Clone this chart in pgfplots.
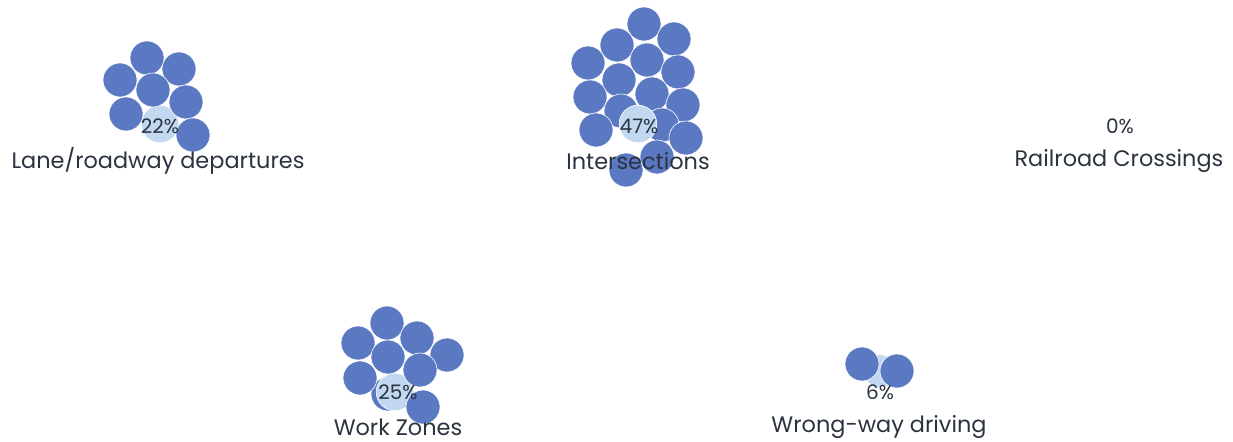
\documentclass[border=0pt]{standalone}
\usepackage{pgfplots}
\pgfplotsset{compat=1.18}
\usepackage{fontspec}
\setmainfont{Poppins}
\definecolor{bubble}{HTML}{5B78C3}
\definecolor{centre}{HTML}{C2D8F0}
\definecolor{txt}{HTML}{2B3340}
% one pixel of the reference = 0.5pt
\pgfplotsset{
  dark/.style={only marks, mark=*, mark size=8.5pt,
    mark options={fill=bubble, draw=white, line width=0.3pt}},
  light/.style={only marks, mark=*, mark size=9.4pt,
    mark options={fill=centre, draw=white, line width=0.3pt}},
}
\begin{document}
\begin{tikzpicture}
\begin{axis}[
  set layers=standard,
  scale only axis, width=616.5pt, height=220.5pt,
  xmin=0, xmax=1233, ymin=0, ymax=441, y dir=reverse,
  hide axis, clip=false,
]
\path (axis cs:0,0) (axis cs:1233,441);
% Lane/roadway departures
\addplot[light] coordinates {(160,124)};
\addplot[dark] coordinates {
  (147,58) (120,80) (179,69) (153,90) (186,102) (126,114) (193,135)};
% Intersections
\addplot[dark] coordinates {
  (644,24) (674,39) (617,45) (647,60) (588,63) (678,72) (619,80)
  (652,94) (590,97) (683,105) (621,111) (662,125) (596,130) (686,138)
  (657,157) (626,170)};
\addplot[light] coordinates {(638,124)};
% Work Zones
\addplot[dark] coordinates {(388,394)};
\addplot[light] coordinates {(395,392)};
\addplot[dark] coordinates {
  (387,323) (417,338) (358,343) (388,357) (447,355) (420,370) (360,378)
  (423,407)};
% Wrong-way driving
\addplot[light, mark size=8.2pt] coordinates {(880,371)};
\addplot[dark] coordinates {(862,364) (897,371)};
% labels
\begin{pgfonlayer}{axis foreground}
\begin{scope}[every node/.style={text=txt, inner sep=0pt}]
\node[font=\fontsize{10}{10}\selectfont] at (axis cs:160,126) {22\%};
\node[font=\fontsize{10}{10}\selectfont] at (axis cs:639,126) {47\%};
\node[font=\fontsize{10}{10}\selectfont] at (axis cs:1120,126) {0\%};
\node[font=\fontsize{10}{10}\selectfont] at (axis cs:398,392) {25\%};
\node[font=\fontsize{10}{10}\selectfont] at (axis cs:880,392) {6\%};
\node[font=\fontsize{11.2}{11.2}\selectfont] at (axis cs:158,161) {Lane/roadway departures};
\node[font=\fontsize{11.2}{11.2}\selectfont] at (axis cs:638,161) {Intersections};
\node[font=\fontsize{11.2}{11.2}\selectfont] at (axis cs:1119,161) {Railroad Crossings};
\node[font=\fontsize{11.2}{11.2}\selectfont] at (axis cs:398,427) {Work Zones};
\node[font=\fontsize{11.2}{11.2}\selectfont] at (axis cs:879,427) {Wrong-way driving};
\end{scope}
\end{pgfonlayer}
\end{axis}
\end{tikzpicture}
\end{document}
